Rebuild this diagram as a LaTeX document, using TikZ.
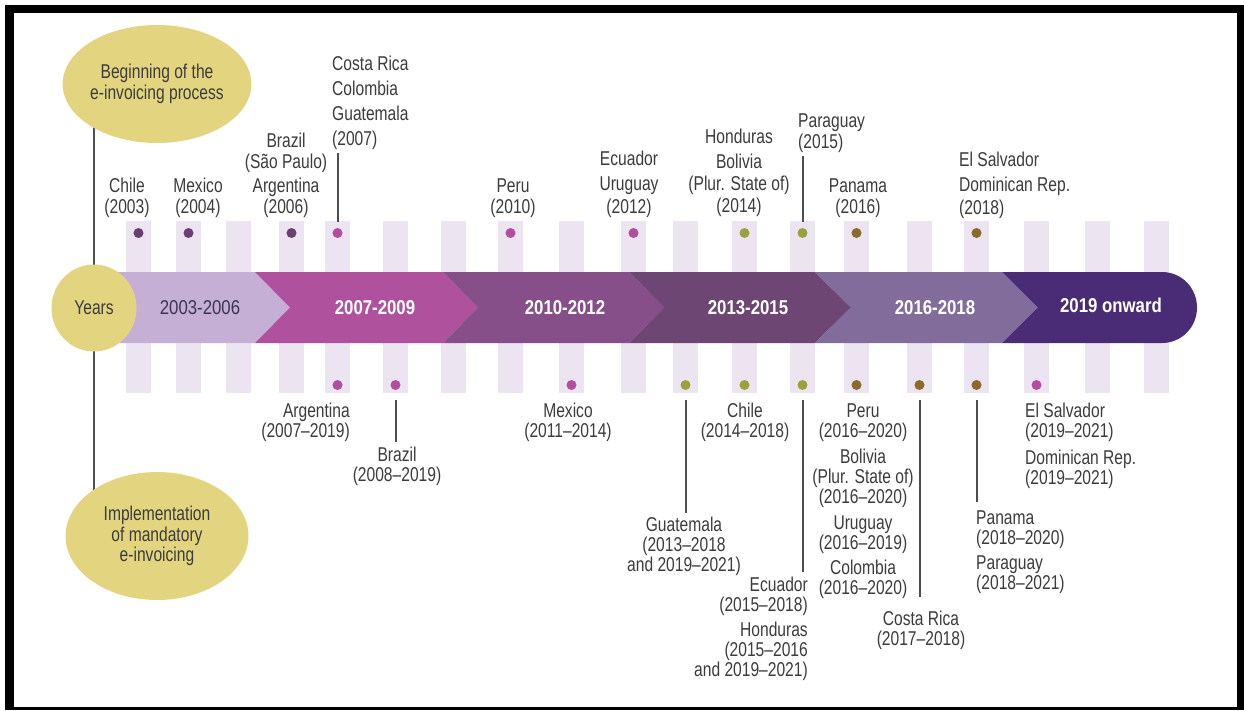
\documentclass[tikz,border=0pt]{standalone}
\usepackage{fontspec}
\setmainfont{Liberation Sans}[FakeStretch=0.78]
\newfontfamily\bandfont{Liberation Sans}[FakeStretch=0.84]
\usetikzlibrary{shapes.geometric}
\definecolor{yel}{HTML}{E3D57F}
\definecolor{stripec}{HTML}{ECE4F1}
\definecolor{segA}{HTML}{C6AFD4}
\definecolor{segB}{HTML}{B0519D}
\definecolor{segC}{HTML}{864F89}
\definecolor{segD}{HTML}{6E4673}
\definecolor{segE}{HTML}{826C9C}
\definecolor{segF}{HTML}{4A2B75}
\definecolor{dpur}{HTML}{6A3E73}
\definecolor{dpink}{HTML}{B24D9F}
\definecolor{dolive}{HTML}{9BA23B}
\definecolor{dbrown}{HTML}{8B6B2B}
\definecolor{txt}{HTML}{3C3C3C}
\definecolor{seg1txt}{HTML}{3B3553}
\definecolor{linec}{HTML}{4D4D4D}
\tikzset{
  lbl/.style={text=txt, inner sep=0pt, align=center, font=\fontsize{20}{21}\selectfont},
  lblb/.style={text=txt, inner sep=0pt, align=center, font=\fontsize{20}{20}\selectfont},
  dotnode/.style={circle, inner sep=0pt, minimum size=10pt, fill=#1},
  conn/.style={draw=linec, line width=2pt},
  bandtxt/.style={font=\bandfont\bfseries\fontsize{20}{20}\selectfont, text=white, inner sep=0pt},
  yell/.style={ellipse, fill=yel, inner sep=0pt, text=txt, align=center, font=\fontsize{20}{20.5}\selectfont},
}
\begin{document}
\begin{tikzpicture}[x=1pt,y=-1pt]
\useasboundingbox (0,0) rectangle (1244,710);
% frame
\fill[black] (5,5) rectangle (1244,710);
\fill[white] (14,13) rectangle (1237,707);
% stripes
\foreach \sx in {126,176,226,279,325,383,441,498,559,621,673,732,790,844,907,964,1024,1085,1144}
  \fill[stripec] (\sx,221) rectangle ++(25,172);
% main vertical line
\coordinate (vtop) at (94,110);
\coordinate (vbot) at (94,520);
\draw[conn] (vtop) -- (vbot);
% band segments
\fill[segA] (100,272) -- (255,272) -- (290,307.5) -- (255,343) -- (100,343) -- cycle;
\fill[segB] (255,272) -- (443,272) -- (478,307.5) -- (443,343) -- (255,343) -- (290,307.5) -- cycle;
\fill[segC] (443,272) -- (629,272) -- (664,307.5) -- (629,343) -- (443,343) -- (478,307.5) -- cycle;
\fill[segD] (629,272) -- (815,272) -- (851,307.5) -- (815,343) -- (629,343) -- (664,307.5) -- cycle;
\fill[segE] (815,272) -- (1002,272) -- (1038,307.5) -- (1002,343) -- (815,343) -- (851,307.5) -- cycle;
\fill[segF] (1002,272) -- (1162,272) .. controls (1181.6,272) and (1197,287.9) .. (1197,307.5)
  .. controls (1197,327.1) and (1181.6,343) .. (1162,343) -- (1002,343) -- (1038,307.5) -- cycle;
% band labels
\node[bandtxt, text=seg1txt, font=\bandfont\fontsize{20}{20}\selectfont] (p1) at (200,308) {2003-2006};
\node[bandtxt] (p2) at (375,308) {2007-2009};
\node[bandtxt] (p3) at (565,308) {2010-2012};
\node[bandtxt] (p4) at (748,308) {2013-2015};
\node[bandtxt] (p5) at (935,308) {2016-2018};
\node[bandtxt] (p6) at (1111,305) {2019 onward};
% ellipses
\node[yell, minimum width=183pt, minimum height=118pt] (begin) at (157,84) {Beginning of the\\e-invoicing process};
\node[yell, minimum width=183pt, minimum height=128pt] (impl) at (157,536) {Implementation\\of mandatory\\e-invoicing};
\node[yell, minimum width=85pt, minimum height=87pt] (years) at (94,308) {Years};
% top dots
\node[dotnode=dpur] (t03) at (138.5,233) {};
\node[dotnode=dpur] (t04) at (188.5,233) {};
\node[dotnode=dpur] (t06) at (291.5,233) {};
\node[dotnode=dpink] (t07) at (337.5,233) {};
\node[dotnode=dpink] (t10) at (510.5,233) {};
\node[dotnode=dpink] (t12) at (633.5,233) {};
\node[dotnode=dolive] (t14) at (744.5,233) {};
\node[dotnode=dolive] (t15) at (802.5,233) {};
\node[dotnode=dbrown] (t16) at (856.5,233) {};
\node[dotnode=dbrown] (t18) at (976.5,233) {};
% bottom dots
\node[dotnode=dpink] (b07) at (337.5,385) {};
\node[dotnode=dpink] (b08) at (395.5,385) {};
\node[dotnode=dpink] (b11) at (571.5,385) {};
\node[dotnode=dolive] (b13) at (685.5,385) {};
\node[dotnode=dolive] (b14) at (744.5,385) {};
\node[dotnode=dolive] (b15) at (802.5,385) {};
\node[dotnode=dbrown] (b16) at (856.5,385) {};
\node[dotnode=dbrown] (b17) at (919.5,385) {};
\node[dotnode=dbrown] (b18) at (976.5,385) {};
\node[dotnode=dpink] (b19) at (1036.5,385) {};
% connector ends
\coordinate (t07e) at (337.5,153);
\coordinate (t15e) at (802.5,156);
\coordinate (b08e) at (395.5,442);
\coordinate (b13e) at (685.5,513);
\coordinate (b15e) at (802.5,572);
\coordinate (b17e) at (919.5,597);
\coordinate (b18e) at (976.5,502);
\draw[conn, shorten <=6pt] (t07) -- (t07e);
\draw[conn, shorten <=6pt] (t15) -- (t15e);
\draw[conn, shorten <=10pt] (b08) -- (b08e);
\draw[conn, shorten <=10pt] (b13) -- (b13e);
\draw[conn, shorten <=10pt] (b15) -- (b15e);
\draw[conn, shorten <=10pt] (b17) -- (b17e);
\draw[conn, shorten <=10pt] (b18) -- (b18e);
% top labels
\node[lbl] (l03) at (127,198) {Chile\\(2003)};
\node[lbl] (l04) at (198,198) {Mexico\\(2004)};
\node[lbl] (l06) at (286,175) {Brazil\\(São Paulo)\\[3pt]Argentina\\(2006)};
\node[lbl, align=left, anchor=west] (l07) at (332,103) {Costa Rica\\[4pt]Colombia\\[4pt]Guatemala\\[4pt](2007)};
\node[lbl] (l10) at (513,198) {Peru\\(2010)};
\node[lbl] (l12) at (629,184) {Ecuador\\[4pt]Uruguay\\[2pt](2012)};
\node[lbl] (l14) at (739,173) {Honduras\\[4pt]Bolivia\\[1pt](Plur. State of)\\[1pt](2014)};
\node[lbl, align=left, anchor=west] (l15) at (798,133) {Paraguay\\(2015)};
\node[lbl] (l16) at (858,198) {Panama\\(2016)};
\node[lbl, align=left, anchor=west] (l18) at (959,185) {El Salvador\\[4pt]Dominican Rep.\\[2pt](2018)};
% bottom labels
\node[lblb, align=right, anchor=east] (lb07) at (350,422) {Argentina\\(2007–2019)};
\node[lblb] (lb08) at (397,466) {Brazil\\(2008–2019)};
\node[lblb] (lb11) at (568,422) {Mexico\\(2011–2014)};
\node[lblb] (lb13) at (684,546) {Guatemala\\(2013–2018\\and 2019–2021)};
\node[lblb] (lb14) at (745,422) {Chile\\(2014–2018)};
\node[lblb, align=right, anchor=east] (lb15) at (808,629) {Ecuador\\(2015–2018)\\[5pt]Honduras\\(2015–2016\\and 2019–2021)};
\node[lblb] (lb16) at (863,501) {Peru\\(2016–2020)\\[6pt]Bolivia\\(Plur. State of)\\(2016–2020)\\[6pt]Uruguay\\(2016–2019)\\[5pt]Colombia\\(2016–2020)};
\node[lblb] (lb17) at (921,630) {Costa Rica\\(2017–2018)};
\node[lblb, align=left, anchor=west] (lb18) at (976,552) {Panama\\(2018–2020)\\[5pt]Paraguay\\(2018–2021)};
\node[lblb, align=left, anchor=west] (lb19) at (1025,446) {El Salvador\\(2019–2021)\\[7pt]Dominican Rep.\\(2019–2021)};
\end{tikzpicture}
\end{document}
